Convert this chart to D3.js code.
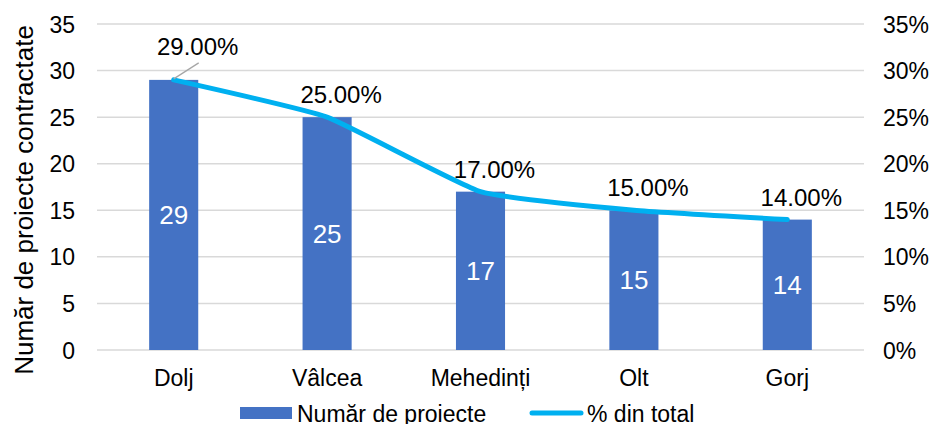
<!DOCTYPE html>
<html><head><meta charset="utf-8">
<script src="https://cdn.jsdelivr.net/npm/d3@7"></script>
<style>
html,body{margin:0;padding:0;background:#fff;}
text{font-family:"Liberation Sans",Arial,sans-serif;}
</style></head>
<body><svg id="c" width="935" height="424"></svg>
<script>
const categories = ["Dolj","Vâlcea","Mehedinți","Olt","Gorj"];
const projects = [29,25,17,15,14];
const percents = [0.29,0.25,0.17,0.15,0.14];
const leftTicks = [0,5,10,15,20,25,30,35];
const rightTicks = [0,0.05,0.10,0.15,0.20,0.25,0.30,0.35];
const yTitle = "Număr de proiecte contractate";
const legendLabels = ["Număr de proiecte","% din total"];

const svg = d3.select("#c");
const L = 97, R = 864, T = 24, B = 350;
const x = d3.scaleBand().domain(categories).range([L,R]).paddingInner(0.68).paddingOuter(0.34);
const y = d3.scaleLinear().domain([0,35]).range([B,T]);
const y2 = d3.scaleLinear().domain([0,0.35]).range([B,T]);
const barColor = "#4472C4", lineColor = "#00B0F0";
const FF = "'Liberation Sans',Arial,sans-serif";

// gridlines
svg.append("g").selectAll("line").data(leftTicks).join("line")
  .attr("x1",L).attr("x2",R).attr("y1",d=>y(d)).attr("y2",d=>y(d))
  .attr("stroke","#d9d9d9").attr("stroke-width",1.5);

// left axis
const ga = svg.append("g").attr("transform",`translate(${L-22},0)`)
  .call(d3.axisLeft(y).tickValues(leftTicks).tickSize(0).tickPadding(0).tickFormat(d3.format("d")));
ga.select(".domain").remove();
ga.selectAll("text").attr("font-size",23).attr("fill","#000").attr("dy","0.35em").style("font-family",FF);

// right axis
const gb = svg.append("g").attr("transform",`translate(${R+19},0)`)
  .call(d3.axisRight(y2).tickValues(rightTicks).tickSize(0).tickPadding(0).tickFormat(d3.format(".0%")));
gb.select(".domain").remove();
gb.selectAll("text").attr("font-size",23).attr("fill","#000").attr("dy","0.35em").style("font-family",FF);

// bottom category labels
const gc = svg.append("g").attr("transform",`translate(0,${B+14})`)
  .call(d3.axisBottom(x).tickSize(0).tickPadding(0));
gc.select(".domain").remove();
gc.selectAll("text").attr("font-size",23).attr("fill","#000").attr("dy","0.95em").style("font-family",FF);

// y title
svg.append("text").attr("transform",`translate(33,${(T+B)/2+13}) rotate(-90)`)
  .attr("text-anchor","middle").attr("font-size",26).text(yTitle);

// bars
svg.append("g").selectAll("rect").data(projects).join("rect")
  .attr("x",(d,i)=>x(categories[i])).attr("width",x.bandwidth())
  .attr("y",d=>y(d)).attr("height",d=>B-y(d)).attr("fill",barColor);

// bar value labels
svg.append("g").selectAll("text").data(projects).join("text")
  .attr("x",(d,i)=>x(categories[i])+x.bandwidth()/2)
  .attr("y",d=>(y(d)+B)/2).attr("dy","0.35em")
  .attr("text-anchor","middle").attr("fill","#fff").attr("font-size",26).text(d=>d);

// line
const cx = i => x(categories[i])+x.bandwidth()/2;
const line = d3.line().x((d,i)=>cx(i)).y(d=>y2(d)).curve(d3.curveCardinal.tension(0.6));
svg.append("path").datum(percents).attr("d",line).attr("fill","none")
  .attr("stroke",lineColor).attr("stroke-width",5).attr("stroke-linecap","round");

// leader line for first label
svg.append("line").attr("x1",cx(0)).attr("y1",y2(percents[0])-1)
  .attr("x2",cx(0)+25).attr("y2",y2(percents[0])-17)
  .attr("stroke","#a6a6a6").attr("stroke-width",1.3);

// percent labels
const pf = d3.format(".2%");
svg.append("g").selectAll("text").data(percents).join("text")
  .attr("x",(d,i)=> i===0 ? cx(i)+24 : cx(i)+14)
  .attr("y",(d,i)=> i===0 ? y2(d)-25 : y2(d)-14)
  .attr("text-anchor","middle").attr("font-size",24).attr("fill","#000").text(d=>pf(d));

// legend
const lg = svg.append("g");
lg.append("rect").attr("x",240).attr("y",407).attr("width",52).attr("height",12).attr("fill",barColor);
lg.append("text").attr("x",297).attr("y",422).attr("font-size",23).text(legendLabels[0]);
lg.append("line").attr("x1",532).attr("x2",581).attr("y1",413).attr("y2",413)
  .attr("stroke",lineColor).attr("stroke-width",5).attr("stroke-linecap","round");
lg.append("text").attr("x",587).attr("y",422).attr("font-size",23).text(legendLabels[1]);
</script>
</body></html>
